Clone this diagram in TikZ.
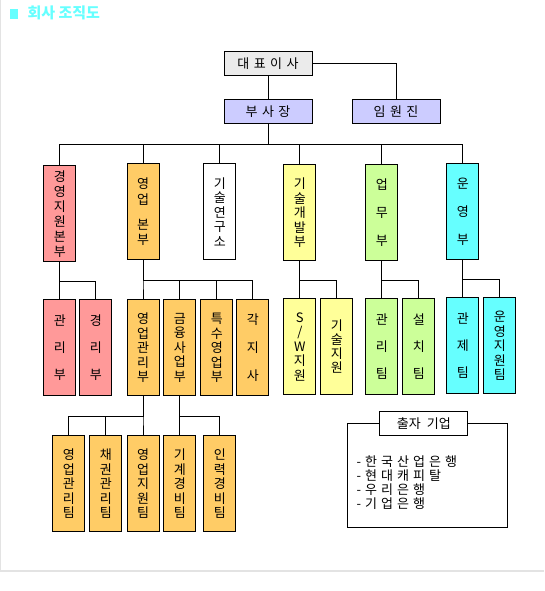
\documentclass[tikz,border=0pt]{standalone}
\usepackage{fontspec}
\newfontfamily\kr{Noto Sans CJK KR}
\definecolor{titlecyan}{RGB}{102,255,255}
\definecolor{cpink}{RGB}{255,153,153}
\definecolor{corange}{RGB}{255,204,102}
\definecolor{cyellow}{RGB}{255,255,153}
\definecolor{cgreen}{RGB}{204,255,153}
\definecolor{ccyan}{RGB}{102,255,255}
\definecolor{clav}{RGB}{204,204,255}
\definecolor{cgray}{RGB}{235,235,235}
\definecolor{framegray}{RGB}{227,227,227}
\newcommand\ks{\hspace{4.5pt}}
\newcommand\ls{\hspace{4pt}}
\begin{document}
\begin{tikzpicture}[x=1pt,y=-1pt,
  conn/.style={draw=black, line width=1pt},
  vbox/.style={draw=black, line width=1pt, inner sep=0pt, minimum width=32pt,
    minimum height=96pt, anchor=north west, align=center},
  s6/.style={font=\kr\fontsize{13}{15}\selectfont},
  s5/.style={font=\kr\fontsize{13}{14.5}\selectfont},
  s4/.style={font=\kr\fontsize{13}{14}\selectfont},
  s3/.style={font=\kr\fontsize{13}{28}\selectfont},
  s3b/.style={font=\kr\fontsize{13}{27}\selectfont},
  hbox/.style={draw=black, line width=1pt, inner sep=0pt, minimum width=88pt,
    minimum height=24pt, anchor=north west, font=\kr\fontsize{13}{14}\selectfont}]
\useasboundingbox (0,0) rectangle (544,591);
% page frame
\draw[framegray, line width=1pt] (0.5,0) -- (0.5,571);
\draw[framegray, line width=2pt] (0,571) -- (544,571);
% title
\fill[titlecyan] (10,9.3) rectangle (17.7,18.7);
\node (title) [anchor=west, inner sep=0pt, text=titlecyan,
  font=\kr\bfseries\fontsize{15}{17}\selectfont] at (27.3,13.3) {회사 조직도};
% top
\node[hbox, fill=cgray] (ceo) at (223.5,51.5) {대\ks 표\ks 이\ks 사};
\node[hbox, fill=clav] (vp) at (223.5,99.3) {부\ks 사\ks 장};
\node[hbox, fill=clav] (exec) at (351.5,99.3) {임\ks 원\ks 진};
\draw[conn] (ceo.south) -- (vp.north);
\draw[conn] (ceo.east) -| (exec.north);
% row 2
\node[vbox, s6, fill=cpink] (gy) at (43.3,165.3) {경\\영\\지\\원\\본\\부};
\node[vbox, font=\kr\fontsize{13}{15.3}\selectfont, fill=corange] (yb) at (126.5,163.3) {영\\업\\[10pt]본\\부};
\node[vbox, s5, fill=white] (gs) at (203.3,163.3) {기\\술\\연\\구\\소};
\node[vbox, s5, fill=cyellow] (gk) at (283.3,164.3) {기\\술\\개\\발\\부};
\node[vbox, s3, fill=cgreen] (um) at (365.3,164.3) {업\\무\\부};
\node[vbox, s3, fill=ccyan] (uy) at (446.3,163.3) {운\\영\\부};
\foreach \n in {gy,yb,gs,gk,um,uy}
  \draw[conn] (vp.south) -- ++(0,20) -| (\n.north);
% row 3
\node[vbox, s3b, fill=cpink] (gy1) at (43.3,299.3) {관\\리\\부};
\node[vbox, s3b, fill=cpink] (gy2) at (79.3,299.3) {경\\리\\부};
\node[vbox, s5, fill=corange] (yb1) at (126.5,299.3) {영\\업\\관\\리\\부};
\node[vbox, s5, fill=corange] (yb2) at (163.3,299.3) {금\\융\\사\\업\\부};
\node[vbox, s5, fill=corange] (yb3) at (200.3,299.3) {특\\수\\영\\업\\부};
\node[vbox, s3, fill=corange] (yb4) at (236.3,299.3) {각\\지\\사};
\node[vbox, s5, fill=cyellow] (gk1) at (283.3,298.3) {S\\/\\W\\지\\원};
\node[vbox, s4, fill=cyellow] (gk2) at (320.3,298.3) {기\\술\\지\\원};
\node[vbox, s3b, fill=cgreen] (um1) at (365.3,298.3) {관\\리\\팀};
\node[vbox, s3b, fill=cgreen] (um2) at (402.3,298.3) {설\\치\\팀};
\node[vbox, s3b, fill=ccyan] (uy1) at (446.3,297.3) {관\\제\\팀};
\node[vbox, s5, fill=ccyan] (uy2) at (483.3,297.3) {운\\영\\지\\원\\팀};
\foreach \n in {gy1,gy2} \draw[conn] (gy.south) -- ++(0,19) -| (\n.north);
\foreach \n in {yb1,yb2,yb3,yb4} \draw[conn] (yb.south) -- ++(0,20) -| (\n.north);
\foreach \n in {gk1,gk2} \draw[conn] (gk.south) -- ++(0,18.7) -| (\n.north);
\foreach \n in {um1,um2} \draw[conn] (um.south) -- ++(0,18.7) -| (\n.north);
\foreach \n in {uy1,uy2} \draw[conn] (uy.south) -- ++(0,19) -| (\n.north);
% row 4
\node[vbox, s5, fill=corange] (t1) at (52.3,435.3) {영\\업\\관\\리\\팀};
\node[vbox, s5, fill=corange] (t2) at (89.3,435.3) {채\\권\\관\\리\\팀};
\node[vbox, s5, fill=corange] (t3) at (126.5,435.3) {영\\업\\지\\원\\팀};
\node[vbox, s5, fill=corange] (t4) at (163.3,435.3) {기\\계\\경\\비\\팀};
\node[vbox, s5, fill=corange] (t5) at (203.3,435.3) {인\\력\\경\\비\\팀};
\foreach \n in {t1,t2,t3} \draw[conn] (yb1.south) -- ++(0,20) -| (\n.north);
\foreach \n in {t4,t5} \draw[conn] (yb2.south) -- ++(0,20) -| (\n.north);
% investors
\node[draw=black, line width=1pt, inner sep=0pt, minimum width=160pt,
  minimum height=104pt, anchor=north west] (outer) at (347.3,423.3) {};
\node[hbox, fill=white] (lab) at (379.3,411.3) {출자\hspace{6pt}기업\hspace{8pt}};
\node (list) [anchor=west, align=left, inner sep=0pt,
  font=\kr\fontsize{13}{14}\selectfont] at (356.5,482.5)
  {-\ls 한\ls 국\ls 산\ls 업\ls 은\ls 행\\
   -\ls 현\ls 대\ls 캐\ls 피\ls 탈\\
   -\ls 우\ls 리\ls 은\ls 행\\
   -\ls 기\ls 업\ls 은\ls 행};
\end{tikzpicture}
\end{document}
